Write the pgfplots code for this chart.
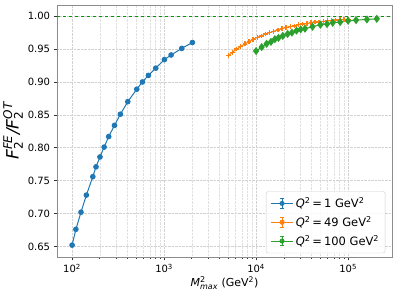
\documentclass[border=0pt]{standalone}
\usepackage{pgfplots}
\pgfplotsset{compat=1.18}
\usepackage{fontspec}
\setmainfont{DejaVu Sans}
\definecolor{tblue}{HTML}{1F77B4}
\definecolor{torange}{HTML}{FF7F0E}
\definecolor{tgreen}{HTML}{2CA02C}
\definecolor{refgreen}{rgb}{0.0,0.6,0.0}
% #1 size, #2 superscript, #3 subscript
\newcommand{\sps}[3]{\ensuremath{^{\mbox{\fontsize{#1}{#1}\selectfont #2}}_{\mbox{\fontsize{#1}{#1}\selectfont #3}}}}
\pgfplotsset{
  ebleg/.style={legend image code/.code={
    \draw[##1,mark=none] (0cm,0cm) -- (0.8cm,0cm);
    \draw[##1,mark=none,line width=0.8pt] (0.4cm,-0.17cm) -- (0.4cm,0.17cm)
      (0.345cm,-0.17cm) -- (0.455cm,-0.17cm) (0.345cm,0.17cm) -- (0.455cm,0.17cm);
    \fill[##1] (0.4cm,0cm) circle (2pt);
  }}
}
\begin{document}
\begin{tikzpicture}
\begin{axis}[
  scale only axis,
  width=335pt, height=252pt,
  xmode=log,
  xmin=68.7, xmax=3.0e5,
  ymin=0.634, ymax=1.017,
  xtick={100,1000,10000,100000},
  xticklabels={10\textsuperscript{2},10\textsuperscript{3},10\textsuperscript{4},10\textsuperscript{5}},
  ytick={0.65,0.70,0.75,0.80,0.85,0.90,0.95,1.00},
  yticklabel style={/pgf/number format/.cd,fixed,fixed zerofill,precision=2},
  /pgf/number format/assume math mode=true,
  tick label style={font=\fontsize{10}{12}\selectfont, black},
  tick align=outside,
  major tick length=3.5pt,
  minor tick length=2pt,
  tick style={black!80, line width=0.6pt},
  ytick pos=left, xtick pos=bottom,
  axis line style={black!45, line width=0.9pt},
  grid=both,
  major grid style={densely dotted, black!18, line width=0.5pt},
  minor grid style={densely dotted, black!12, line width=0.5pt},
  minor y tick num=0,
  xlabel={\textit{M}\sps{8}{2}{\itshape max} (GeV\textsuperscript{2})},
  xlabel style={font=\fontsize{11}{13}\selectfont, yshift=3pt},
  ylabel={\fontsize{17}{20}\selectfont\textit{F}\sps{12}{\itshape FE}{2}\textit{/F}\sps{12}{\itshape OT}{2}},
  ylabel style={yshift=-2pt},
  legend style={at={(0.98,0.015)}, anchor=south east, font=\fontsize{11.5}{13}\selectfont,
    draw=black!20, rounded corners=2pt, fill=white, fill opacity=0.85, text opacity=1,
    row sep=3pt, inner sep=4pt},
  legend cell align=left,
  clip=false,
]
\useasboundingbox (rel axis cs:-0.170,-0.1468) rectangle (rel axis cs:1.0149,1.0198);
\addplot[refgreen, dashed, line width=0.8pt, forget plot] coordinates {(68.7,1.0) (3.0e5,1.0)};
\addplot[tblue, line width=1pt, mark=*, mark size=2.3pt, ebleg] coordinates {
(100,0.652) (110,0.676) (125,0.702) (143,0.728) (168,0.756) (182,0.771) (201,0.786)
(223,0.801) (250,0.817) (289,0.834) (335,0.851) (403,0.870) (505,0.889) (581,0.900)
(675,0.910) (812,0.921) (1008,0.934) (1192,0.941) (1556,0.951) (2030,0.960)};
\addlegendentry{\textit{Q}\textsuperscript{2}\,=\,1 GeV\textsuperscript{2}}
\addplot[torange, line width=1pt, mark=+, mark size=2.4pt, mark options={line width=1.4pt}, ebleg] coordinates {
(5000,0.940) (5544,0.945) (6147,0.950) (6816,0.954) (7557,0.958) (8379,0.961)
(9291,0.965) (10302,0.968) (11422,0.970) (12665,0.973) (14043,0.975) (15571,0.977)
(17265,0.979) (19143,0.981) (21226,0.983) (23535,0.984) (26096,0.985) (28935,0.987)
(32083,0.988) (35574,0.989) (39444,0.990) (43736,0.991) (48494,0.991) (53770,0.992)
(59620,0.993) (66107,0.993) (73300,0.994) (81275,0.9945) (90118,0.995) (100000,0.9954)};
\addlegendentry{\textit{Q}\textsuperscript{2}\,=\,49 GeV\textsuperscript{2}}
\addplot[tgreen, line width=1pt, mark=diamond*, mark size=3.3pt, ebleg] coordinates {
(10000,0.947) (11500,0.953) (13000,0.958) (14500,0.961) (16000,0.965) (17500,0.967)
(19500,0.970) (22000,0.973) (24500,0.975) (27500,0.978) (30500,0.980) (34000,0.981)
(41000,0.984) (50000,0.987) (59000,0.988) (68000,0.990) (82000,0.991) (100000,0.993)
(122000,0.994) (160000,0.995) (205000,0.996)};
\addlegendentry{\textit{Q}\textsuperscript{2}\,=\,100 GeV\textsuperscript{2}}
\end{axis}
\end{tikzpicture}
\end{document}
